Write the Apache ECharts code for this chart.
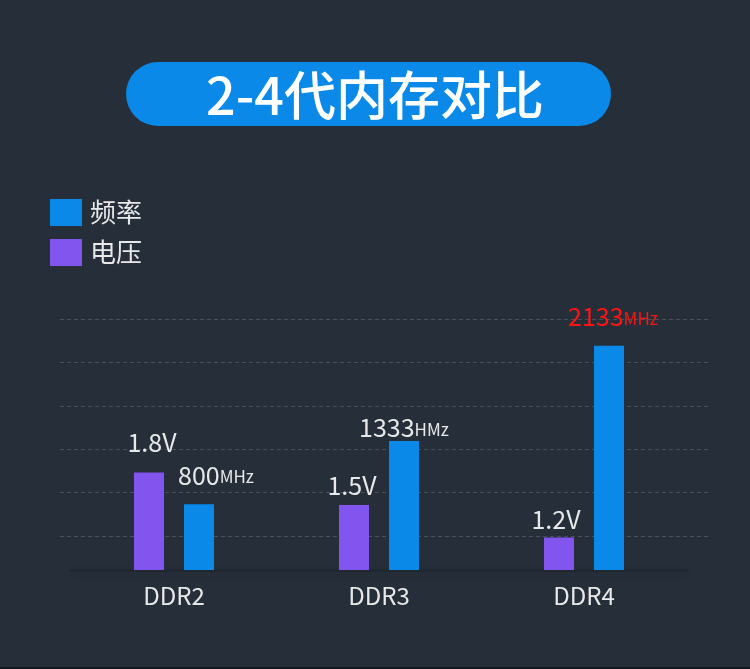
<!DOCTYPE html>
<html>
<head>
<meta charset="utf-8">
<title>2-4代内存对比</title>
<script src="https://cdn.jsdelivr.net/npm/echarts@6/dist/echarts.min.js"></script>
<style>
  html, body { margin: 0; padding: 0; background: #262f39; }
  #chart { width: 750px; height: 669px; }
</style>
</head>
<body>
<div id="chart"></div>
<script>
// 数据
var categories = ['DDR2', 'DDR3', 'DDR4'];
var voltage = [1.8, 1.5, 1.2];          // 电压 V
var frequency = [800, 1333, 2133];      // 频率
var freqUnits = ['MHz', 'HMz', 'MHz'];  // 原图 DDR3 写的是 HMz

var FONT = 'Noto Sans CJK SC';
var BLUE = '#0a89e9';
var PURPLE = '#8155ee';
var TEXT = '#e8e8e8';

// 标签微调 [dx, distance]
var voltShift = [[3, 17], [-2, 7], [-3, 5]];
var freqShift = [[17, 16], [0, 0], [4, 16]];

var chart = echarts.init(document.getElementById('chart'));

var option = {
    backgroundColor: '#262f39',
    animation: false,
    textStyle: { fontFamily: FONT },
    graphic: [
        {
            type: 'rect',
            shape: { x: 126, y: 62, width: 485, height: 64, r: 32 },
            style: { fill: BLUE }
        },
        {
            type: 'text',
            x: 375, y: 95,
            style: {
                text: '2-4代内存对比',
                fill: '#ffffff',
                font: '500 52px "' + FONT + '"',
                align: 'center',
                verticalAlign: 'middle'
            }
        },
        {
            type: 'rect',
            shape: { x: 0, y: 667, width: 750, height: 2 },
            style: { fill: '#14181d' }
        }
    ],
    legend: {
        orient: 'vertical',
        left: 50,
        top: 199,
        padding: 0,
        itemWidth: 32,
        itemHeight: 27,
        itemGap: 13,
        icon: 'rect',
        data: ['频率', '电压'],
        textStyle: { color: TEXT, fontSize: 26, fontFamily: FONT, padding: [0, 0, 0, 3] }
    },
    grid: [
        { left: 71.5, right: 63.5, top: 319, bottom: 99 },    // 柱子
        { left: 60, right: 40, top: 319, bottom: 89.6 }       // 虚线网格
    ],
    xAxis: [
        {
            type: 'category',
            gridIndex: 0,
            data: categories,
            axisTick: { show: false },
            axisLine: {
                lineStyle: { color: 'rgba(15,20,25,0.25)', width: 3,
                    shadowColor: 'rgba(0,0,0,0.22)', shadowBlur: 8, shadowOffsetY: 2 }
            },
            axisLabel: { color: TEXT, fontSize: 24, fontFamily: FONT, margin: 14 }
        },
        { type: 'category', gridIndex: 1, show: false }
    ],
    yAxis: [
        { type: 'value', gridIndex: 0, show: false, min: 0.9, max: 3.2177 },
        { type: 'value', gridIndex: 0, show: false, min: 247, max: 2359 },
        {
            type: 'value',
            gridIndex: 1,
            min: 0, max: 6, interval: 1,
            axisLine: { show: false },
            axisTick: { show: false },
            axisLabel: { show: false },
            splitLine: {
                showMinLine: false,
                lineStyle: { color: 'rgba(255,255,255,0.16)', type: [4, 3], width: 1 }
            }
        }
    ],
    series: [
        {
            name: '电压',
            type: 'bar',
            xAxisIndex: 0,
            yAxisIndex: 0,
            barWidth: 30,
            barGap: '66.67%',
            itemStyle: { color: PURPLE },
            data: voltage.map(function (v, i) {
                return {
                    value: v,
                    label: {
                        show: true,
                        position: 'top',
                        distance: voltShift[i][1],
                        offset: [voltShift[i][0], 0],
                        formatter: '{n|' + v.toFixed(1) + 'V}',
                        rich: { n: { fontSize: 25, color: TEXT, fontFamily: FONT, lineHeight: 26 } }
                    }
                };
            })
        },
        {
            name: '频率',
            type: 'bar',
            xAxisIndex: 0,
            yAxisIndex: 1,
            barWidth: 30,
            barGap: '66.67%',
            itemStyle: { color: BLUE },
            data: frequency.map(function (f, i) {
                var c = i === 2 ? '#ff1414' : TEXT;
                return {
                    value: f,
                    label: {
                        show: true,
                        position: 'top',
                        distance: freqShift[i][1],
                        offset: [freqShift[i][0], 0],
                        formatter: '{n|' + f + '}{u|' + freqUnits[i] + '}',
                        rich: {
                            n: { fontSize: 25, color: c, fontFamily: FONT, lineHeight: 26 },
                            u: { fontSize: 17, color: c, fontFamily: FONT, lineHeight: 26, padding: [3, 0, 0, 0] }
                        }
                    }
                };
            })
        }
    ]
};

chart.setOption(option);
</script>
</body>
</html>
